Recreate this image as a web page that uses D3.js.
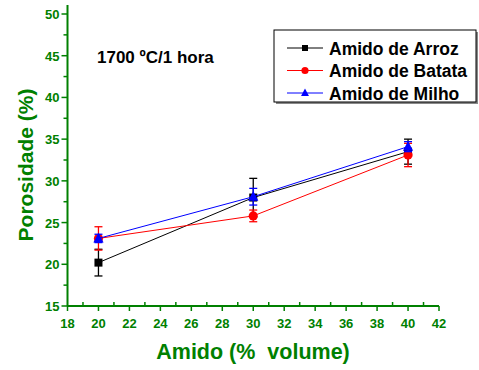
<!DOCTYPE html>
<html>
<head>
<meta charset="utf-8">
<script src="https://cdn.jsdelivr.net/npm/d3@7"></script>
<style>
  body { margin: 0; background: #fff; }
  svg text { font-family: "Liberation Sans", Arial, sans-serif; font-weight: 700; }
</style>
</head>
<body>
<svg id="chart" width="479" height="370"></svg>
<script>
// data
var amido = [20, 30, 40];
var arroz = [20.2, 28.0, 33.5];
var arrozErr = [1.6, 2.3, 1.5];
var batata = [23.1, 25.8, 33.1];
var batataErr = [1.4, 0.7, 1.4];
var milho = [23.1, 28.1, 34.1];
var milhoErr = [0.5, 1.0, 0.6];
var xTicks = [18, 20, 22, 24, 26, 28, 30, 32, 34, 36, 38, 40, 42];
var yTicks = [15, 20, 25, 30, 35, 40, 45, 50];

var series = [
    {name: "Amido de Arroz", values: arroz, err: arrozErr, color: "#000000", marker: "square"},
    {name: "Amido de Batata", values: batata, err: batataErr, color: "#ff0000", marker: "circle"},
    {name: "Amido de Milho", values: milho, err: milhoErr, color: "#0000ff", marker: "triangle"}
];

var green = "#008000";
var svg = d3.select("#chart");

var x = d3.scaleLinear().domain([18, 42]).range([67.5, 439]);
var y = d3.scaleLinear().domain([15, 50]).range([306, 14]);

// axes
var gx = svg.append("g").attr("transform", "translate(0," + y(15) + ")");
gx.append("line").attr("x1", x(18)).attr("x2", x(42)).attr("stroke", green).attr("stroke-width", 2);
gx.selectAll(".minor").data(d3.range(19, 42, 2)).enter().append("line")
    .attr("x1", function(d) { return x(d); }).attr("x2", function(d) { return x(d); })
    .attr("y1", 0).attr("y2", -4).attr("stroke", green).attr("stroke-width", 1.5);
gx.selectAll(".major").data(xTicks).enter().append("line")
    .attr("x1", function(d) { return x(d); }).attr("x2", function(d) { return x(d); })
    .attr("y1", 0).attr("y2", 5).attr("stroke", green).attr("stroke-width", 1.5);
gx.selectAll("text").data(xTicks).enter().append("text")
    .attr("x", function(d) { return x(d); }).attr("y", 22)
    .attr("text-anchor", "middle").attr("fill", green).attr("font-weight", "bold").style("font-size", "13px")
    .text(function(d) { return d; });

var gy = svg.append("g").attr("transform", "translate(" + x(18) + ",0)");
gy.append("line").attr("y1", 5).attr("y2", y(15)).attr("stroke", green).attr("stroke-width", 2);
gy.selectAll(".minor").data(d3.range(17.5, 50, 5)).enter().append("line")
    .attr("y1", function(d) { return y(d); }).attr("y2", function(d) { return y(d); })
    .attr("x1", 0).attr("x2", -4).attr("stroke", green).attr("stroke-width", 1.5);
gy.selectAll(".major").data(yTicks).enter().append("line")
    .attr("y1", function(d) { return y(d); }).attr("y2", function(d) { return y(d); })
    .attr("x1", 0).attr("x2", -6).attr("stroke", green).attr("stroke-width", 1.5);
gy.selectAll("text").data(yTicks).enter().append("text")
    .attr("x", -8).attr("y", function(d) { return y(d) + 5; })
    .attr("text-anchor", "end").attr("fill", green).attr("font-weight", "bold").style("font-size", "13px")
    .text(function(d) { return d; });

// axis titles
svg.append("text").attr("x", 253).attr("y", 359).attr("text-anchor", "middle")
    .attr("fill", green).attr("font-weight", "bold").style("font-size", "21.5px")
    .style("white-space", "pre").text("Amido (%  volume)");
svg.append("text").attr("transform", "translate(33,165) rotate(-90)").attr("text-anchor", "middle")
    .attr("fill", green).attr("font-weight", "bold").style("font-size", "21px").text("Porosidade (%)");

svg.append("text").attr("x", 97).attr("y", 63).attr("fill", "#000").attr("font-weight", "bold")
    .style("font-size", "17px").text("1700 ºC/1 hora");

// series
var line = d3.line().x(function(d) { return x(d[0]); }).y(function(d) { return y(d[1]); });

function drawMarker(g, type, color, size) {
    if (type == "square") {
        g.append("rect").attr("x", -size).attr("y", -size).attr("width", size * 2).attr("height", size * 2).attr("fill", color);
    }
    else if (type == "circle") {
        g.append("circle").attr("r", size + 0.6).attr("fill", color);
    }
    else {
        var h = size * 1.15;
        g.append("path").attr("d", "M0," + (-h - 1) + "L" + (h + 0.5) + "," + (h - 0.5) + "L" + (-h - 0.5) + "," + (h - 0.5) + "Z").attr("fill", color);
    }
}

series.forEach(function(s) {
    var pts = amido.map(function(a, i) { return [a, s.values[i]]; });
    var g = svg.append("g");
    g.append("path").attr("d", line(pts)).attr("fill", "none").attr("stroke", s.color).attr("stroke-width", 1);
    pts.forEach(function(p, i) {
        var top = y(p[1] + s.err[i]), bot = y(p[1] - s.err[i]), cx = x(p[0]);
        g.append("line").attr("x1", cx).attr("x2", cx).attr("y1", top).attr("y2", bot).attr("stroke", s.color).attr("stroke-width", 1.3);
        [top, bot].forEach(function(v) {
            g.append("line").attr("x1", cx - 4).attr("x2", cx + 4).attr("y1", v).attr("y2", v).attr("stroke", s.color).attr("stroke-width", 1.3);
        });
        drawMarker(g.append("g").attr("transform", "translate(" + cx + "," + y(p[1]) + ")"), s.marker, s.color, 4);
    });
});

// legend
var lg = svg.append("g");
lg.append("rect").attr("x", 276).attr("y", 32).attr("width", 202).attr("height", 72).attr("fill", "#888");
lg.append("rect").attr("x", 274).attr("y", 30).attr("width", 202).attr("height", 72)
    .attr("fill", "#fff").attr("stroke", "#000").attr("stroke-width", 1);
series.forEach(function(s, i) {
    var yy = 48 + i * 22.5;
    var row = lg.append("g").attr("transform", "translate(0," + yy + ")");
    row.append("line").attr("x1", 287).attr("x2", 323).attr("stroke", s.color).attr("stroke-width", 1);
    drawMarker(row.append("g").attr("transform", "translate(305,0)"), s.marker, s.color, 3);
    row.append("text").attr("x", 329).attr("y", 6.5).attr("fill", "#000").attr("font-weight", "bold")
        .style("font-size", "17.5px").text(s.name);
});
</script>
</body>
</html>
